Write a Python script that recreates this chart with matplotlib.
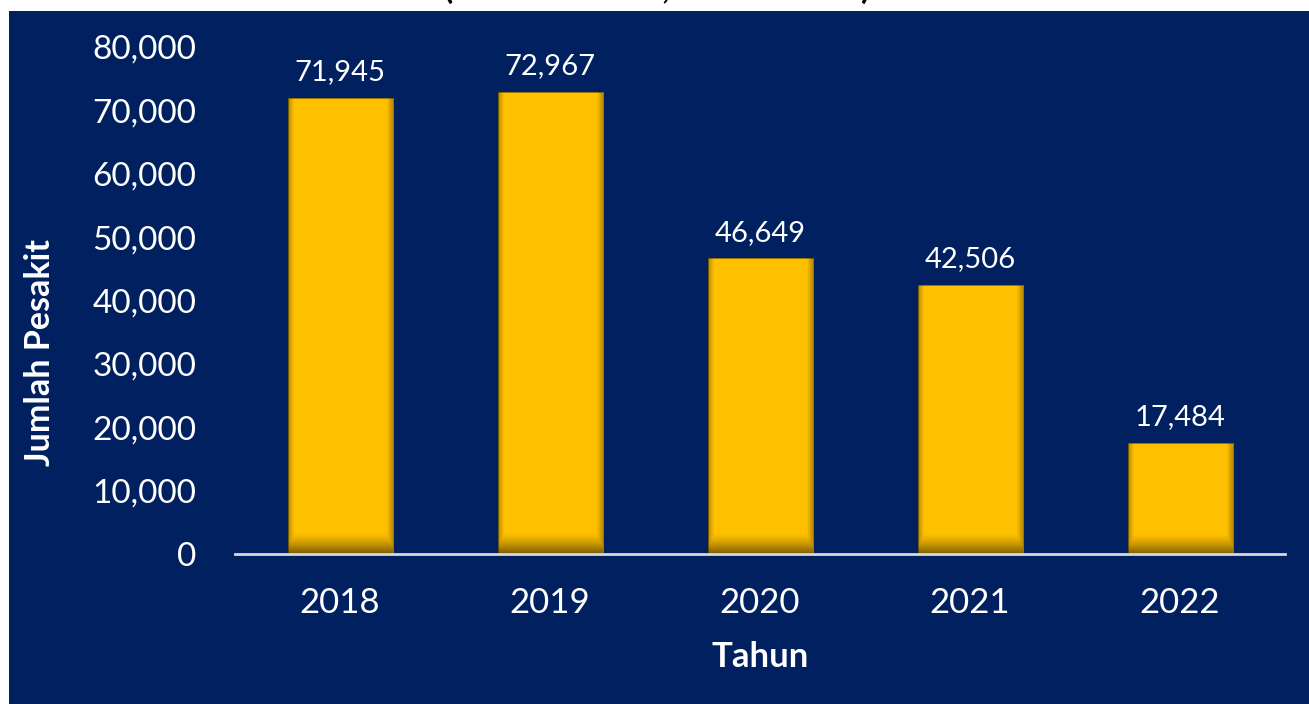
import matplotlib
matplotlib.use('Agg')
import matplotlib.pyplot as plt
import numpy as np
from matplotlib.patches import Rectangle
from matplotlib.ticker import FuncFormatter

plt.rcParams['font.family'] = ['Lato', 'DejaVu Sans']

tahun = ['2018', '2019', '2020', '2021', '2022']
jumlah = [71945, 72967, 46649, 42506, 17484]
yticks = [0, 10000, 20000, 30000, 40000, 50000, 60000, 70000, 80000]

navy = '#00205F'
gold = '#FFC000'

fig = plt.figure(figsize=(13.09, 7.04), dpi=100)
fig.patch.set_facecolor('white')
# navy panel (leaves a thin white strip on the left and top)
fig.add_artist(Rectangle((9 / 1309, 0), 1, 1 - 11 / 704, transform=fig.transFigure,
                         facecolor=navy, edgecolor='none', zorder=0))
# title cut off at the top of the picture
fig.text(657 / 1309, 1.0 + 1 / 704, '(Data Tahunan, 2018 - 2022)', ha='center', va='baseline',
         fontsize=24, fontweight='bold', color='black')

ax = fig.add_axes([235 / 1309, 1 - 554 / 704, (1285 - 235) / 1309, (554 - 47) / 704])
ax.set_facecolor('none')

x = np.arange(len(tahun))
bars = ax.bar(x, jumlah, width=0.5, color=gold, edgecolor='#A07800', linewidth=0.6, zorder=2)

# darker shading along the bottom and sides of each bar
ny, nx = 200, 60
yy = np.linspace(0, 1, ny)[:, None]
xx = np.linspace(0, 1, nx)[None, :]
for b in bars:
    x0, w, h = b.get_x(), b.get_width(), b.get_height()
    bottom_px = 20 / 63.4 * 10000 / h  # about 20 px of shading at the base
    vert = np.clip(1 - yy / bottom_px, 0, 1) ** 1.3 * 0.5
    side = np.clip(1 - np.minimum(xx, 1 - xx) / 0.05, 0, 1) * 0.25
    dark = np.maximum(vert, side)
    img = np.zeros((ny, nx, 4))
    img[..., 3] = dark
    im = ax.imshow(img, extent=[x0, x0 + w, 0, h], origin='lower', aspect='auto',
                   zorder=3, interpolation='bilinear')
    im.set_clip_path(b)

for xi, v in zip(x, jumlah):
    ax.text(xi, v + 2000, f'{v:,}', ha='center', va='bottom', fontsize=21, color='white', zorder=4)

ax.set_xlim(-0.5, len(tahun) - 0.5)
ax.set_ylim(0, 80000)
ax.set_yticks(yticks)
ax.yaxis.set_major_formatter(FuncFormatter(lambda v, p: f'{int(v):,}'))
ax.set_xticks(x)
ax.set_xticklabels(tahun)
ax.tick_params(axis='y', length=0, colors='white', labelsize=24, pad=28)
ax.tick_params(axis='x', length=0, colors='white', labelsize=25, pad=24)

for s in ['top', 'right', 'left']:
    ax.spines[s].set_visible(False)
ax.spines['bottom'].set_color('#D9D9D9')
ax.spines['bottom'].set_linewidth(2)
ax.spines['bottom'].set_zorder(5)

fig.text(760 / 1309, 1 - 657 / 704, 'Tahun', ha='center', va='center',
         fontsize=25, fontweight='bold', color='white')
fig.text(40 / 1309, 1 - 352 / 704, 'Jumlah Pesakit', ha='center', va='center', rotation=90,
         fontsize=24.5, fontweight='bold', color='white')

fig.savefig('out.png', dpi=100, facecolor=fig.get_facecolor())
